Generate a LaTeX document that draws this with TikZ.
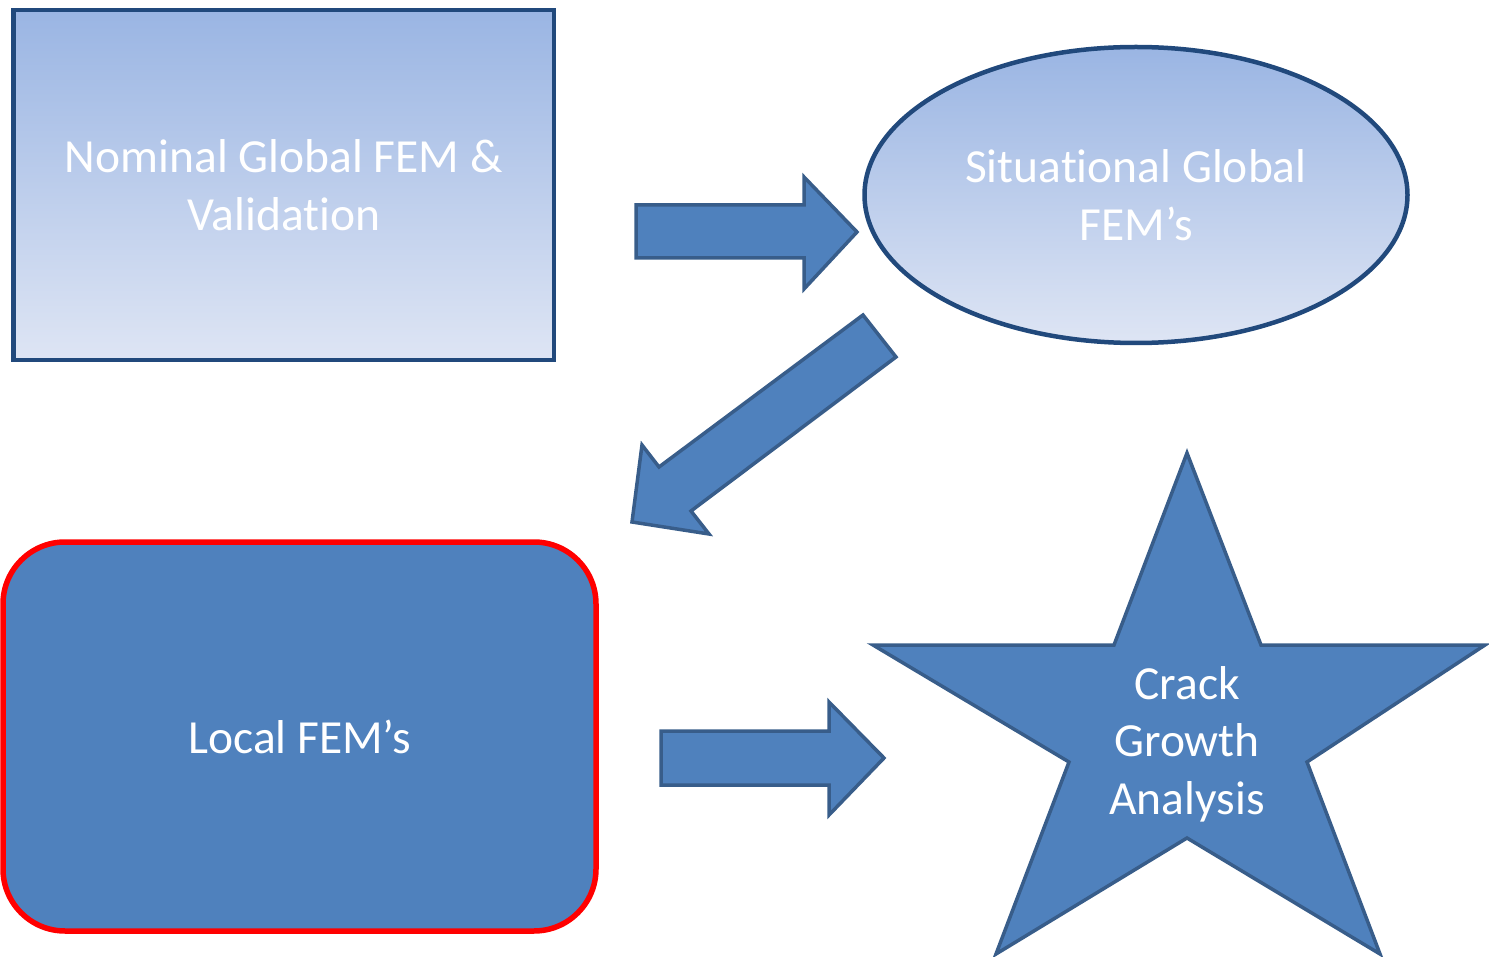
\documentclass[tikz,border=0pt]{standalone}
\usepackage{fontspec}
\setmainfont{Carlito}[RawFeature={-liga;-calt}]
\usetikzlibrary{shapes.geometric}
\newcommand{\tibreak}{t\kern0pt i}
\definecolor{navy}{RGB}{33,73,124}
\definecolor{arrowline}{RGB}{56,93,138}
\definecolor{blockfill}{RGB}{79,129,189}
\definecolor{gradtop}{RGB}{154,181,227}
\definecolor{gradbot}{RGB}{222,229,244}
\definecolor{redline}{RGB}{255,0,0}
\tikzset{
  lbl/.style={text=white, align=center, font=\fontsize{47.5}{57.5}\selectfont, inner sep=0pt},
  gradbox/.style={lbl, draw=navy, line width=4.5pt, top color=gradtop, bottom color=gradbot},
  blockarrow/.style={fill=blockfill, draw=arrowline, line width=3.5pt, line join=miter},
  starshape/.style={fill=blockfill, draw=arrowline, line width=3.5pt, line join=miter}
}
\begin{document}
\begin{tikzpicture}[x=1pt,y=-1pt]
\path[use as bounding box] (0,0) rectangle (1489,957);
\clip (0,0) rectangle (1489,957);

% Nominal global box
\node[gradbox, rectangle, minimum width=540.5pt, minimum height=350pt] (nominal) at (283.75,185)
  {Nominal Global FEM \&\\Valida\tibreak on};

% Situational ellipse
\node[gradbox, ellipse, minimum width=543pt, minimum height=296pt] (situational) at (1136,195)
  {Situa\tibreak onal Global\\FEM’s};

% Local FEM box
\node[lbl, rectangle, rounded corners=62pt, fill=blockfill, draw=redline, line width=5.5pt,
      minimum width=593pt, minimum height=389pt] (local) at (299.5,736.5) {Local FEM’s};

% Star
\draw[starshape] (1187,453) -- (1261,645) -- (1485,645) -- (1307,762) -- (1380,954)
  -- (1187,838) -- (996,954) -- (1069,762) -- (873,645) -- (1114,645) -- cycle;
\node[lbl] (crack) at (1187,744) {Crack\\Growth\\Analysis};

% Arrow nominal -> situational
\draw[blockarrow] (636,205) -- (804,205) -- (804,177) -- (857,232) -- (804,289)
  -- (804,258) -- (636,258) -- cycle;

% Arrow situational -> local (diagonal)
\draw[blockarrow] (863,315) -- (896,357) -- (691,511) -- (709,534) -- (632,522)
  -- (642,445) -- (659,467) -- cycle;

% Arrow local -> crack
\draw[blockarrow] (661,731) -- (829,731) -- (829,702) -- (884,758) -- (829,815)
  -- (829,785) -- (661,785) -- cycle;
\end{tikzpicture}
\end{document}
